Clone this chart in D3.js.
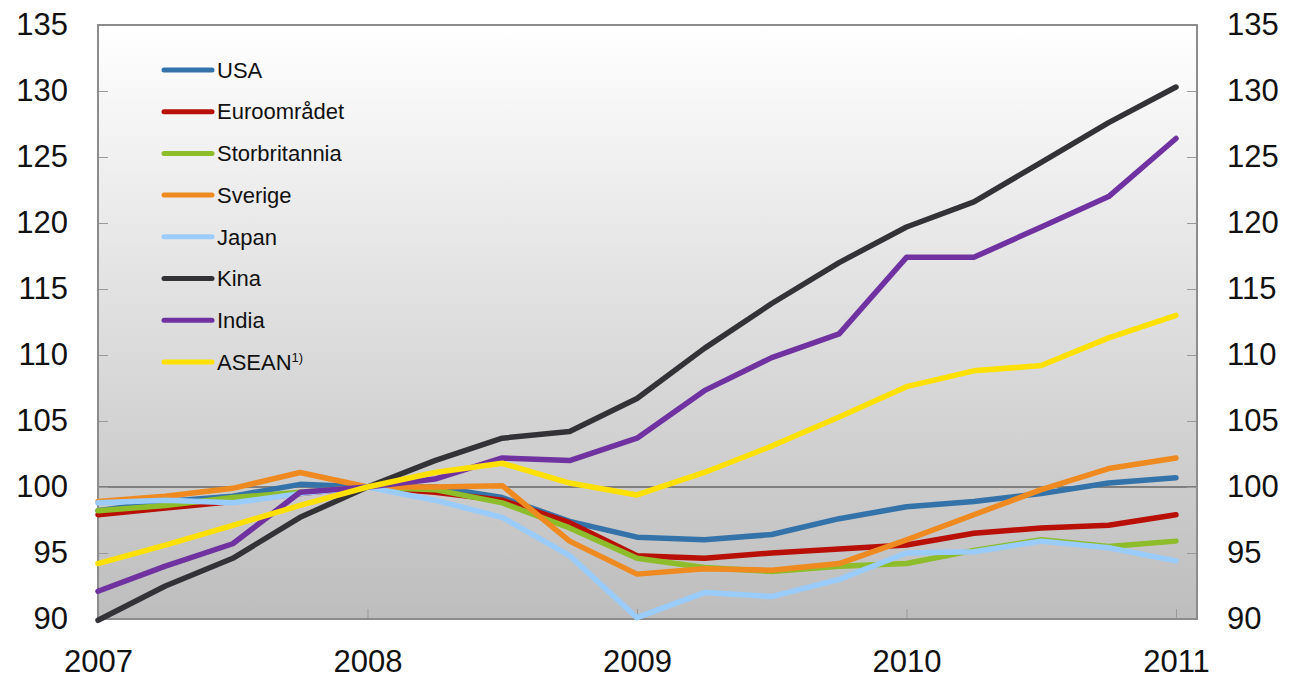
<!DOCTYPE html>
<html>
<head>
<meta charset="utf-8">
<script src="https://cdn.jsdelivr.net/npm/d3@7"></script>
<style>
  body { margin: 0; background: #fff; }
  text { font-family: "Liberation Sans", Arial, sans-serif; fill: #111; }
</style>
</head>
<body>
<div id="chart"></div>
<script>
// quarters 2007 Q1 .. 2011 Q1
const quarters = d3.range(17);
const years = [2007, 2008, 2009, 2010, 2011];
const yTicks = [90, 95, 100, 105, 110, 115, 120, 125, 130, 135];

const names = ["USA", "Euroområdet", "Storbritannia", "Sverige", "Japan", "Kina", "India", "ASEAN"];
const colors = ["#3473a9", "#b80f06", "#8ebd2b", "#ef8a20", "#99ccfb", "#333337", "#7132a1", "#ffe000"];

const usa = [98.2, 98.9, 99.3, 100.2, 100, 100, 99.2, 97.4, 96.2, 96, 96.4, 97.6, 98.5, 98.9, 99.5, 100.3, 100.7];
const euro = [97.9, 98.4, 98.9, 99.5, 100, 99.6, 99.0, 97.3, 94.8, 94.6, 95.0, 95.3, 95.6, 96.5, 96.9, 97.1, 97.9];
const storbritannia = [98.2, 98.6, 99.2, 99.6, 100, 99.8, 98.8, 96.9, 94.6, 93.9, 93.6, 94.0, 94.2, 95.2, 96.0, 95.5, 95.9];
const sverige = [98.9, 99.3, 99.9, 101.1, 100, 100, 100.1, 95.9, 93.4, 93.8, 93.7, 94.2, 96.0, 97.9, 99.8, 101.4, 102.2];
const japan = [98.8, 99.0, 98.8, 99.5, 100, 99.0, 97.7, 94.8, 90.1, 92.0, 91.7, 93.0, 95.0, 95.1, 95.9, 95.4, 94.4];
const kina = [89.9, 92.5, 94.6, 97.7, 100, 102.0, 103.7, 104.2, 106.7, 110.5, 113.9, 117.0, 119.7, 121.6, 124.6, 127.6, 130.3];
const india = [92.1, 94.0, 95.7, 99.6, 100, 100.6, 102.2, 102.0, 103.7, 107.3, 109.8, 111.6, 117.4, 117.4, 119.7, 122.0, 126.4];
const asean = [94.2, 95.6, 97.1, 98.6, 100, 101.1, 101.8, 100.3, 99.4, 101.1, 103.1, 105.3, 107.6, 108.8, 109.2, 111.3, 113.0];

const seriesValues = [usa, euro, storbritannia, sverige, japan, kina, india, asean];

const W = 1291, H = 681;
const padLeft = 98, padRight = 1197, padTop = 25, padBottom = 619;

const svg = d3.select("#chart").append("svg")
  .attr("width", W).attr("height", H);

const defs = svg.append("defs");
const grad = defs.append("linearGradient")
  .attr("id", "bg").attr("x1", 0).attr("y1", 0).attr("x2", 0).attr("y2", 1);
grad.append("stop").attr("offset", "0%").attr("stop-color", "#ffffff");
grad.append("stop").attr("offset", "100%").attr("stop-color", "#bdbdbd");

const x = d3.scaleLinear().domain([0, 16]).range([padLeft, 1176]);
const y = d3.scaleLinear().domain([90, 135]).range([padBottom, padTop]);

svg.append("rect")
  .attr("x", padLeft).attr("y", padTop)
  .attr("width", padRight - padLeft).attr("height", padBottom - padTop)
  .attr("fill", "url(#bg)");

// 100 line
svg.append("line")
  .attr("x1", padLeft).attr("x2", padRight)
  .attr("y1", y(100)).attr("y2", y(100))
  .attr("stroke", "#7f7f7f").attr("stroke-width", 2);

// axes
const yLeft = d3.axisLeft(y).tickValues(yTicks).tickSizeInner(-10).tickSizeOuter(0).tickPadding(30);
const yRight = d3.axisRight(y).tickValues(yTicks).tickSizeInner(-10).tickSizeOuter(0).tickPadding(30);
const xAxis = d3.axisBottom(x).tickValues(years.map((d, i) => i * 4))
  .tickFormat((d) => years[d / 4]).tickSizeInner(-10).tickSizeOuter(0).tickPadding(31);

function styleAxis(g) {
  g.select(".domain").remove();
  g.selectAll(".tick line").attr("stroke", "#999").attr("stroke-width", 1);
  g.selectAll(".tick text").attr("font-size", 31).attr("fill", "#111")
    .style("font-family", "'Liberation Sans', Arial, sans-serif");
}

svg.append("g").attr("transform", "translate(" + padLeft + ",0)").call(yLeft).call(styleAxis);
svg.append("g").attr("transform", "translate(" + padRight + ",0)").call(yRight).call(styleAxis);
svg.append("g").attr("transform", "translate(0," + padBottom + ")").call(xAxis).call(styleAxis);

// frame
svg.append("rect")
  .attr("x", padLeft).attr("y", padTop)
  .attr("width", padRight - padLeft).attr("height", padBottom - padTop)
  .attr("fill", "none").attr("stroke", "#8c8c8c").attr("stroke-width", 2);

// lines
const line = d3.line().x((d, i) => x(quarters[i])).y((d) => y(d));

svg.append("g").selectAll("path")
  .data(seriesValues)
  .enter()
  .append("path")
  .attr("d", (d) => line(d))
  .attr("fill", "none")
  .attr("stroke", (d, i) => colors[i])
  .attr("stroke-width", 5.5)
  .attr("stroke-linejoin", "round")
  .attr("stroke-linecap", "round");

// legend
const legend = svg.append("g").attr("transform", "translate(164,70)");
const rows = legend.selectAll("g").data(names).enter().append("g")
  .attr("transform", (d, i) => "translate(0," + i * 41.7 + ")");
rows.append("line")
  .attr("x1", 0).attr("x2", 48).attr("y1", 0).attr("y2", 0)
  .attr("stroke", (d, i) => colors[i])
  .attr("stroke-width", 5).attr("stroke-linecap", "round");
const labels = rows.append("text")
  .attr("x", 53).attr("y", 0).attr("dy", "0.35em")
  .attr("font-size", 22);
labels.text((d) => d);
labels.filter((d) => d === "ASEAN").append("tspan")
  .attr("font-size", 13).attr("dy", "-0.6em").text("1)");
</script>
</body>
</html>
